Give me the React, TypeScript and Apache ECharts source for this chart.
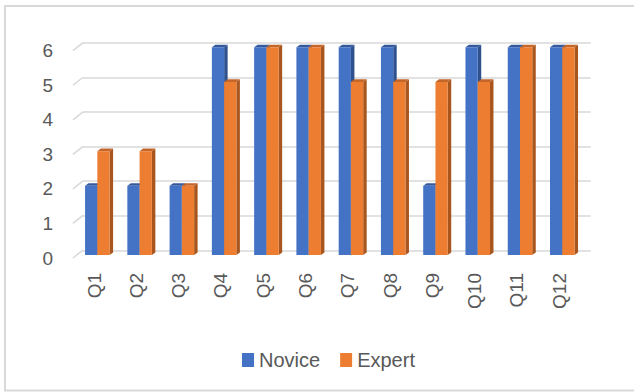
import React, { useEffect, useRef } from "react";
import * as echarts from "echarts";

const categories = ["Q1", "Q2", "Q3", "Q4", "Q5", "Q6", "Q7", "Q8", "Q9", "Q10", "Q11", "Q12"];
const novice = [2, 2, 2, 6, 6, 6, 6, 6, 2, 6, 6, 6];
const expert = [3, 3, 2, 5, 6, 6, 5, 5, 5, 5, 6, 6];
const yTicks = [0, 1, 2, 3, 4, 5, 6];

const FONT = "Liberation Sans, Arial, sans-serif";
const TEXT = "#595959";
const GRID_LINE = "#d9d9d9";
const DX = 3.5;
const DY = 2.6;

const palette = {
  Novice: { front: "#4472C4", side: "#2F528F", top: "#34599C" },
  Expert: { front: "#ED7D31", side: "#A9561E", top: "#C4652A" },
};

function barRenderer(which: "Novice" | "Expert") {
  const c = palette[which];
  return (params: any, api: any) => {
    const idx = api.value(0);
    const val = api.value(1);
    const topPt = api.coord([idx, val]);
    const basePt = api.coord([idx, 0]);
    const bw = api.size([1, 0])[0] * 0.29;
    const x0 = which === "Novice" ? topPt[0] - bw : topPt[0];
    const x1 = x0 + bw;
    const yt = topPt[1];
    const yb = basePt[1];
    return {
      type: "group",
      children: [
        {
          type: "polygon",
          shape: { points: [[x1, yt], [x1 + DX, yt - DY], [x1 + DX, yb - DY], [x1, yb]] },
          style: { fill: c.side },
        },
        {
          type: "polygon",
          shape: { points: [[x0, yt], [x0 + DX, yt - DY], [x1 + DX, yt - DY], [x1, yt]] },
          style: { fill: c.top },
        },
        {
          type: "rect",
          shape: { x: x0, y: yt, width: bw, height: yb - yt },
          style: { fill: c.front },
        },
      ],
    };
  };
}

export default function App() {
  const ref = useRef<HTMLDivElement>(null);
  useEffect(() => {
    document.body.style.margin = "0";
    const chart = echarts.init(ref.current!, null, { renderer: "svg", width: 634, height: 392 });
    const frontGrid = { left: 73, top: 50.7, width: 507.2, height: 207.3 };
    const barGrid = { left: 76.2, top: 47.3, width: 507.2, height: 207.7 };
    const backGrid = { left: 83, top: 42.7, width: 507.7, height: 207.8 };
    const catAxisHidden = {
      type: "category",
      data: categories,
      axisLine: { show: false },
      axisTick: { show: false },
      axisLabel: { show: false },
      splitLine: { show: false },
    };
    const valAxisBase = { type: "value", min: 0, max: 6, interval: 1 };
    chart.setOption({
      animation: false,
      backgroundColor: "#ffffff",
      textStyle: { fontFamily: FONT },
      graphic: [
        {
          type: "rect",
          shape: { x: 5, y: 6, width: 640, height: 384.5 },
          style: { fill: "none", stroke: "#d9d9d9", lineWidth: 2 },
          z: 0,
        },
      ],
      legend: {
        data: ["Novice", "Expert"],
        left: 237,
        top: 345,
        icon: "rect",
        itemWidth: 12,
        itemHeight: 14,
        itemGap: 20,
        textStyle: { color: TEXT, fontSize: 20, fontFamily: FONT },
      },
      grid: [
        { ...frontGrid, containLabel: false },
        { ...barGrid, containLabel: false },
        { ...backGrid, containLabel: false },
      ],
      xAxis: [
        {
          type: "category",
          data: categories,
          gridIndex: 0,
          axisLine: { show: false },
          axisTick: { show: false },
          splitLine: { show: false },
          axisLabel: { rotate: 90, margin: 15, fontSize: 19, color: TEXT, fontFamily: FONT, interval: 0 },
        },
        { ...catAxisHidden, gridIndex: 1 },
        { ...catAxisHidden, gridIndex: 2 },
      ],
      yAxis: [
        {
          ...valAxisBase,
          gridIndex: 0,
          axisLine: { show: false },
          axisTick: { show: false },
          splitLine: { show: false },
          axisLabel: { margin: 20, fontSize: 19, color: TEXT, fontFamily: FONT },
        },
        {
          ...valAxisBase,
          gridIndex: 1,
          axisLine: { show: false },
          axisTick: { show: false },
          splitLine: { show: false },
          axisLabel: { show: false },
        },
        {
          ...valAxisBase,
          gridIndex: 2,
          axisLine: { show: false },
          axisTick: { show: false },
          axisLabel: { show: false },
          splitLine: { show: true, lineStyle: { color: GRID_LINE, width: 1.6 } },
        },
      ],
      series: [
        {
          type: "custom",
          name: "floorSlants",
          xAxisIndex: 0,
          yAxisIndex: 0,
          silent: true,
          z: 1,
          data: yTicks.map((t) => [0, t]),
          renderItem: (params: any, api: any) => {
            const p = api.coord([0, api.value(1)]);
            const cs = params.coordSys;
            return {
              type: "line",
              shape: { x1: cs.x, y1: p[1], x2: cs.x + 10, y2: p[1] - 8 },
              style: { stroke: GRID_LINE, lineWidth: 1.6 },
            };
          },
        },
        {
          type: "custom",
          name: "Novice",
          xAxisIndex: 1,
          yAxisIndex: 1,
          z: 3,
          itemStyle: { color: palette.Novice.front },
          data: categories.map((_, i) => [i, novice[i]]),
          renderItem: barRenderer("Novice"),
        },
        {
          type: "custom",
          name: "Expert",
          xAxisIndex: 1,
          yAxisIndex: 1,
          z: 4,
          itemStyle: { color: palette.Expert.front },
          data: categories.map((_, i) => [i, expert[i]]),
          renderItem: barRenderer("Expert"),
        },
      ],
    });
    return () => chart.dispose();
  }, []);
  return (
    <div
      ref={ref}
      style={{ position: "fixed", left: 0, top: 0, width: 634, height: 392, background: "#fff" }}
    />
  );
}
